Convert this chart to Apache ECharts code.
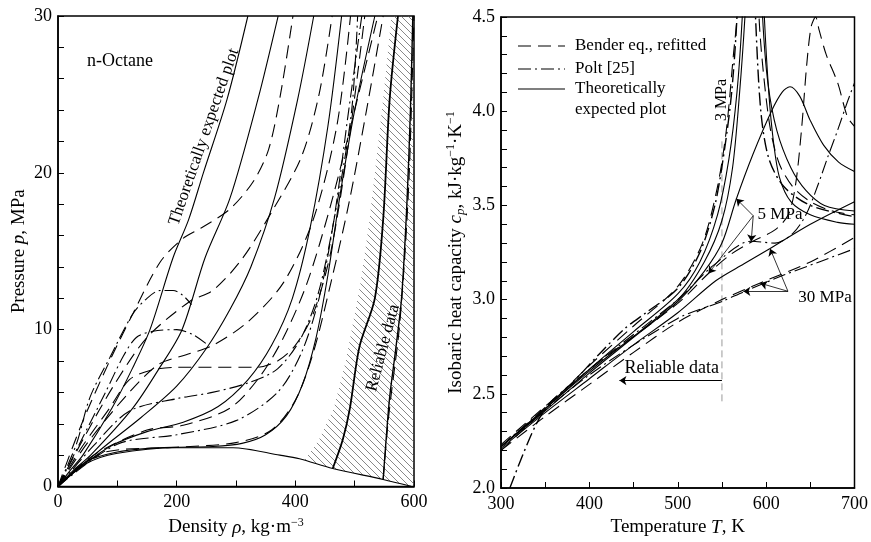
<!DOCTYPE html>
<html><head><meta charset="utf-8">
<script src="https://cdn.jsdelivr.net/npm/echarts@6/dist/echarts.min.js"></script>
<style>html,body{margin:0;padding:0;background:#fff}#c{width:871px;height:542px}</style>
</head><body><div id="c"></div>
<script>
// ---------- axis settings ----------
const densityTicks = [0, 200, 400, 600];
const pressureTicks = [0, 10, 20, 30];
const temperatureTicks = [300, 400, 500, 600, 700];
const cpTicks = [2.0, 2.5, 3.0, 3.5, 4.0, 4.5];

// ---------- left panel: p(rho) isotherms ----------
const theoS1 = [[0,0],[20,1],[42,2],[91,5],[125,7.5],[155,10],[194,14.6],[220,17],[245,20],[285,24.7],[320,30]];
const theoS2 = [[0,0],[25,1],[55,2],[126,5],[170,7.5],[209,10],[248,14.6],[290,18.4],[337,24.7],[371,30]];
const theoS3 = [[0,0],[35,1.2],[80,2.6],[140,4.4],[200,6.4],[250,8.8],[290,11.3],[325,14],[365,18.4],[404,24.7],[431,30]];
const theoS4 = [[0,0],[40,1.3],[90,2.6],[150,3.5],[211,4.1],[270,5.1],[320,6.8],[360,9],[395,12],[425,16.5],[455,23],[478,30]];
const theoS5 = [[0,0],[48,1.6],[100,2.2],[150,2.42],[200,2.5],[260,2.55],[310,2.75],[350,3.3],[385,4.5],[412,6.5],[435,9.5],[455,13.5],[475,18.5],[500,24],[534,30]];
const theoDome = [[0,0],[48,1.46],[98,2.1],[200,2.47],[295,2.47],[374,2.0],[407,1.77],[463,1.15],[548,0.45],[595,0.02]];
const theoS6 = [[463,1.15],[480,3],[492,5],[508,8.9],[534,12],[548,17],[559,24.7],[573,30]];
const theoS7 = [[548,0.45],[553,3],[559,5.7],[570,9],[579,12],[588,18],[594,24],[598,30]];

const benderL1 = [[0,0],[40,4],[87,8],[126,11],[172,14.3],[210,15.8],[242,16.5],[290,17.7],[330,19.5],[355,21.5],[375,25],[396,30]];
const benderL2 = [[0,0],[45,3.2],[95,6.5],[150,9.5],[222,11.8],[261,12.5],[310,14.5],[360,17.5],[410,21],[440,25],[462,30]];
const benderL3 = [[0,0],[50,2.8],[120,6],[170,7.8],[216,8.4],[261,9],[320,10.5],[380,13],[430,17],[470,23],[493,30]];
const benderL4 = [[0,0],[40,2.5],[87,5],[120,6.8],[155,7.4],[200,7.6],[260,7.6],[335,7.6],[370,8],[400,9],[430,11],[460,15],[490,22],[517,30]];
const benderL5 = [[0,0],[60,2],[150,3.6],[211,3.9],[290,5],[340,7],[380,9.5],[420,13],[460,18],[500,24],[539,30]];
const benderL6 = [[0,0],[80,2.2],[200,2.5],[300,2.8],[360,3.6],[400,5.5],[430,8.5],[460,13],[490,18],[520,24],[548,30]];
const benderL7 = [[548,0.45],[556,4],[562,6],[575,10],[585,15],[592,20],[597,26],[600,30]];

const poltL1 = [[0,0],[31,2.7],[54,5.7],[87,8.2],[126,11],[150,12],[172,12.5],[194,12.5],[210,12.2],[225,11.6]];
const poltL2 = [[0,0],[40,3],[80,6],[110,8.3],[132,9.5],[160,9.9],[200,10],[227,9.7],[250,9.1]];
const poltL3 = [[0,0],[60,2.6],[120,4.8],[200,5.6],[260,6],[320,6.6],[370,7.5],[410,9.5],[440,12.5],[470,18],[495,24],[505,30]];
const poltL4 = [[0,0],[100,2.7],[200,3.3],[300,4.2],[370,6],[410,8.5],[440,12],[465,17],[490,24],[512,30]];

// hatched "reliable data" region boundary
const hatchEdge = [[416,1.7],[440,3],[465,5],[485,8],[495,10],[510,13],[525,17],[540,22],[548,24.7],[562,30],[600,30],[600,0],[595,0.02],[548,0.45],[463,1.15]];

// ---------- right panel: cp(T) isobars ----------
const theoR3 = [[300,2.22],[350,2.42],[400,2.63],[450,2.83],[500,3.03],[525,3.2],[545,3.45],[558,3.75],[567,4.1],[573,4.5],[580,5.2],[592,5.2],[598,4.5],[603,4.1],[608,3.85],[615,3.65],[628,3.52],[650,3.45],[681,3.41],[700,3.4]];
const theoR4 = [[300,2.22],[400,2.62],[500,3.0],[530,3.2],[550,3.42],[562,3.7],[570,4.1],[576,4.5],[584,5.2],[590,5.2],[596,4.5],[602,4.15],[612,3.9],[628,3.7],[645,3.58],[666,3.5],[700,3.47]];
const theoR5 = [[300,2.22],[350,2.41],[400,2.61],[450,2.8],[500,2.99],[530,3.15],[550,3.3],[566,3.53],[585,3.77],[606,4.0],[618,4.1],[627,4.13],[638,4.08],[650,3.95],[665,3.82],[682,3.73],[700,3.68]];
const theoR30 = [[300,2.21],[350,2.4],[400,2.58],[450,2.76],[500,2.93],[543,3.1],[575,3.19],[604,3.27],[650,3.4],[700,3.52]];

const benderR3 = [[300,2.2],[350,2.42],[400,2.65],[450,2.86],[500,3.07],[528,3.3],[545,3.6],[555,3.9],[563,4.3],[567,4.5],[573,5.2],[588,5.2],[592,4.5],[597,4.2],[605,3.9],[615,3.72],[630,3.6],[650,3.52],[675,3.47],[700,3.45]];
const benderR5 = [[300,2.23],[400,2.63],[500,2.98],[535,3.14],[560,3.24],[585,3.31],[610,3.37],[625,3.45],[633,3.6],[640,3.9],[646,4.25],[651,4.45],[656,4.5],[660,4.43],[668,4.3],[681,4.15],[692,3.97],[700,3.92]];
const benderR30 = [[300,2.2],[350,2.38],[400,2.55],[450,2.72],[500,2.88],[550,3.0],[594,3.09],[650,3.2],[700,3.33]];

const poltR3 = [[310,2.0],[325,2.18],[340,2.34],[355,2.45],[381,2.56],[411,2.71],[441,2.85],[464,2.93],[500,3.06],[525,3.25],[542,3.5],[553,3.8],[561,4.1],[567,4.5],[572,5.2],[582,5.2],[588,4.5],[594,4.0],[603,3.75],[620,3.6],[650,3.5],[700,3.44]];
const poltR5 = [[300,2.22],[400,2.63],[500,3.0],[540,3.18],[583,3.31],[610,3.3],[630,3.35],[645,3.45],[658,3.6],[670,3.76],[681,3.9],[692,4.05],[700,4.15]];
const poltR30 = [[300,2.22],[400,2.6],[500,2.9],[550,2.99],[574,3.04],[620,3.13],[660,3.2],[700,3.27]];

// annotations (data coordinates)
const reliableLimit = [[550,3.84],[550,2.46]];
const reliableArrow = [[550,2.57],[434,2.57]];
const arrows5MPa = [[[585.4,3.445],[566.3,3.535]],[[585.4,3.445],[583.1,3.308]],[[585.4,3.445],[534.8,3.139]]];
const arrows30MPa = [[[624.7,3.044],[604.5,3.27]],[[624.7,3.044],[593.3,3.087]],[[624.7,3.044],[574.2,3.044]]];

// ---------- build ----------
const FONT = 'Liberation Serif';
const DASH = [13, 7];
const DASHDOT = [13, 4, 2, 4];
const NAMES = {theo: 'Theoretically expected plot', bender: 'Bender eq., refitted', polt: 'Polt [25]'};

function ln(kind, data, idx, width) {
  return {
    type: 'line', name: NAMES[kind], data: data, xAxisIndex: idx, yAxisIndex: idx,
    showSymbol: false, symbol: 'none', smooth: 0.3, clip: true, silent: true, z: 3,
    lineStyle: {color: '#000', width: width || 1.1, type: kind === 'theo' ? 'solid' : (kind === 'bender' ? DASH : DASHDOT)},
    emphasis: {disabled: true}
  };
}

const pc = document.createElement('canvas');
pc.width = 7; pc.height = 7;
const g = pc.getContext('2d');
g.strokeStyle = '#555'; g.lineWidth = 0.7;
g.beginPath(); g.moveTo(0,0); g.lineTo(7,7); g.moveTo(-1,6); g.lineTo(1,8); g.moveTo(6,-1); g.lineTo(8,1); g.stroke();

const series = [
  {
    type: 'custom', xAxisIndex: 0, yAxisIndex: 0, data: [[500, 10]], silent: true, z: 1, clip: true,
    renderItem: function (params, api) {
      return {type: 'polygon', shape: {points: hatchEdge.map(p => api.coord(p))},
              style: {fill: {image: pc, repeat: 'repeat'}, stroke: null}};
    }
  },
  ln('theo', theoS1, 0), ln('theo', theoS2, 0), ln('theo', theoS3, 0), ln('theo', theoS4, 0),
  ln('theo', theoS5, 0), ln('theo', theoDome, 0), ln('theo', theoS6, 0, 1.8), ln('theo', theoS7, 0, 1.4),
  ln('bender', benderL1, 0), ln('bender', benderL2, 0), ln('bender', benderL3, 0), ln('bender', benderL4, 0),
  ln('bender', benderL5, 0), ln('bender', benderL6, 0), ln('bender', benderL7, 0),
  ln('polt', poltL1, 0), ln('polt', poltL2, 0), ln('polt', poltL3, 0), ln('polt', poltL4, 0),
  ln('theo', theoR3, 1), ln('theo', theoR4, 1), ln('theo', theoR5, 1), ln('theo', theoR30, 1),
  ln('bender', benderR3, 1), ln('bender', benderR5, 1), ln('bender', benderR30, 1),
  ln('polt', poltR3, 1, 1.4), ln('polt', poltR5, 1), ln('polt', poltR30, 1),
  {
    type: 'line', xAxisIndex: 1, yAxisIndex: 1, data: reliableLimit, symbol: 'none', silent: true, z: 2,
    lineStyle: {color: '#999', width: 1, type: [7, 4]},
    markLine: {
      silent: true, symbol: ['none', 'arrow'], symbolSize: 7, animation: false,
      label: {show: false}, lineStyle: {color: '#000', width: 0.8, type: 'solid'},
      data: arrows5MPa.concat(arrows30MPa).map(a => [{coord: a[0]}, {coord: a[1]}])
        .concat([[{coord: reliableArrow[0], lineStyle: {width: 1.2}, symbolSize: 10}, {coord: reliableArrow[1]}]])
    }
  }
];

function xAxis(idx, min, max, interval, name) {
  return {
    type: 'value', gridIndex: idx, min: min, max: max, interval: interval,
    name: name, nameLocation: 'middle', nameGap: 30,
    nameTextStyle: {fontFamily: FONT, fontSize: 19, color: '#000',
      rich: {i: {fontFamily: FONT, fontSize: 19, fontStyle: 'italic', color: '#000'},
             sup: {fontFamily: FONT, fontSize: 12, color: '#000', verticalAlign: 'top', lineHeight: 22}}},
    axisLine: {show: true, lineStyle: {color: '#000', width: 1.5}},
    axisTick: {show: true, inside: true, length: 6, lineStyle: {color: '#000', width: 1}},
    minorTick: {show: true, splitNumber: 2, length: 6, lineStyle: {color: '#000', width: 1}},
    axisLabel: {fontFamily: FONT, fontSize: 18, color: '#000', margin: 7},
    splitLine: {show: false}
  };
}
function yAxis(idx, min, max, interval, name, fmt, gap) {
  return {
    type: 'value', gridIndex: idx, min: min, max: max, interval: interval,
    name: name, nameLocation: 'middle', nameGap: gap,
    nameTextStyle: {fontFamily: FONT, fontSize: 19, color: '#000', lineHeight: 22,
      rich: {i: {fontFamily: FONT, fontSize: 19, fontStyle: 'italic', color: '#000', lineHeight: 22},
             sub: {fontFamily: FONT, fontSize: 13, fontStyle: 'italic', color: '#000', verticalAlign: 'bottom', lineHeight: 22},
             sup: {fontFamily: FONT, fontSize: 12, color: '#000', verticalAlign: 'top', lineHeight: 22}}},
    axisLine: {show: true, lineStyle: {color: '#000', width: 1.5}},
    axisTick: {show: true, inside: true, length: 6, lineStyle: {color: '#000', width: 1}},
    minorTick: {show: true, splitNumber: 5, length: 6, lineStyle: {color: '#000', width: 1}},
    axisLabel: {fontFamily: FONT, fontSize: 18, color: '#000', margin: 6, formatter: fmt},
    splitLine: {show: false}
  };
}

function txt(x, y, text, size, rot, align) {
  return {type: 'text', x: x, y: y, rotation: (rot || 0) * Math.PI / 180, z: 50, silent: true,
    style: {text: text, font: size + 'px "' + FONT + '"', fill: '#000', align: align || 'center', verticalAlign: 'middle',
            textAlign: align || 'center', textVerticalAlign: 'middle'}};
}
function seg(x1, x2, y, dash) {
  return {type: 'line', z: 50, silent: true, shape: {x1: x1, y1: y, x2: x2, y2: y},
    style: {stroke: '#000', lineWidth: 1.2, lineDash: dash}};
}

const chart = echarts.init(document.getElementById('c'), null, {renderer: 'canvas'});
chart.setOption({
  animation: false,
  backgroundColor: '#fff',
  grid: [
    {left: 58, top: 16, width: 356, height: 474, show: true, borderColor: '#000', borderWidth: 1.5},
    {left: 501, top: 17, width: 356, height: 474, show: true, borderColor: '#000', borderWidth: 1.5}
  ],
  xAxis: [
    xAxis(0, densityTicks[0], densityTicks[densityTicks.length - 1], 200, 'Density {i|ρ}, kg·m{sup|−3}'),
    xAxis(1, temperatureTicks[0], temperatureTicks[temperatureTicks.length - 1], 100, 'Temperature {i|T}, K')
  ],
  yAxis: [
    yAxis(0, pressureTicks[0], pressureTicks[pressureTicks.length - 1], 10, 'Pressure {i|p}, MPa', v => String(v), 28),
    yAxis(1, cpTicks[0], cpTicks[cpTicks.length - 1], 0.5, 'Isobaric heat capacity {i|c}{sub|p}, kJ·kg{sup|−1}·K{sup|−1}', v => v.toFixed(1), 34)
  ],
  series: series,
  graphic: [
    txt(87, 61, 'n-Octane', 18, 0, 'left'),
    txt(204, 137, 'Theoretically expected plot', 17, 71),
    txt(383, 348, 'Reliable data', 17, 75),
    txt(722, 100, '3 MPa', 16, 90),
    txt(780, 215, '5 MPa', 17),
    txt(825, 298, '30 MPa', 17),
    txt(719, 368, 'Reliable data', 18, 0, 'right'),
    seg(518, 565, 46, DASH),
    seg(518, 565, 69, DASHDOT),
    seg(518, 565, 89, null),
    txt(575, 46, 'Bender eq., refitted', 17, 0, 'left'),
    txt(575, 69, 'Polt [25]', 17, 0, 'left'),
    txt(575, 89, 'Theoretically', 17, 0, 'left'),
    txt(575, 110, 'expected plot', 17, 0, 'left')
  ]
});
</script>
</body></html>
